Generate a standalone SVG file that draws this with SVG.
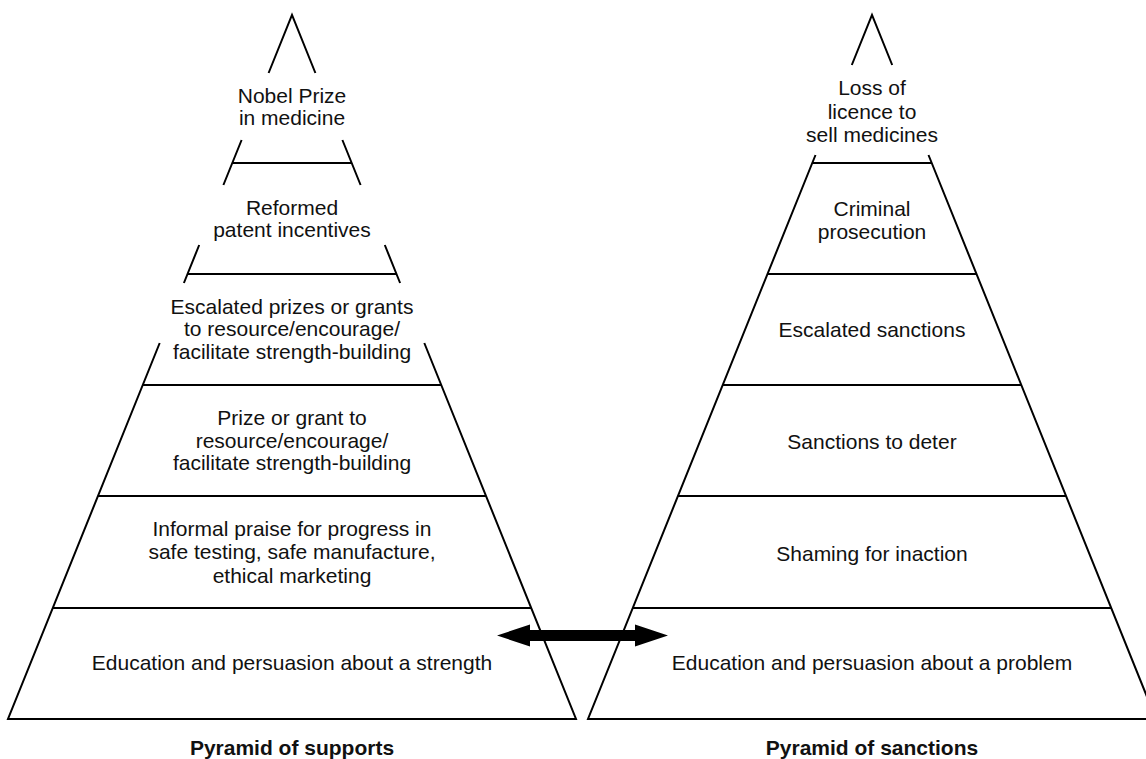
<svg xmlns="http://www.w3.org/2000/svg" width="1146" height="759" viewBox="0 0 1146 759">
<style>
.ln{stroke:#000;stroke-width:2;fill:none;stroke-linecap:butt}
.t{font-family:"Liberation Sans",Arial,sans-serif;font-size:21px;fill:#111;text-anchor:middle}
.lb{font-family:"Liberation Sans",Arial,sans-serif;font-size:21px;font-weight:bold;fill:#111;text-anchor:middle}
</style>
<rect width="1146" height="759" fill="#fff"/>
<g id="pyramid-supports-outline">
<path class="ln" d="M268.6,73 L292,15 L315.4,73 M241.6,140 L223.4,185 M342.4,140 L360.6,185 M199.2,245 L183.9,283 M384.8,245 L400.1,283 M159.7,343 L8,719 L576,719 L424.3,343"/>
<path class="ln" d="M232.3,163 H351.7 M187.5,274 H396.5 M142.7,385 H441.3 M98,496 H486 M52.8,608 H531.2"/>
</g>
<g id="pyramid-sanctions-outline">
<path class="ln" d="M851.8,65 L872,15 L892.2,65 M815.5,155 L588,719 L1156,719 L928.5,155"/>
<path class="ln" d="M812.3,163 H931.7 M767.5,274 H976.5 M722.7,385 H1021.3 M678,496 H1066 M632.8,608 H1111.2"/>
</g>
<g id="support-6"><text class="t" x="292" y="103">Nobel Prize</text><text class="t" x="292" y="125">in medicine</text></g>
<g id="support-5"><text class="t" x="292" y="215">Reformed</text><text class="t" x="292" y="237">patent incentives</text></g>
<g id="support-4"><text class="t" x="292" y="313.5">Escalated prizes or grants</text><text class="t" x="292" y="336">to resource/encourage/</text><text class="t" x="292" y="358.5">facilitate strength-building</text></g>
<g id="support-3"><text class="t" x="292" y="425">Prize or grant to</text><text class="t" x="292" y="447.5">resource/encourage/</text><text class="t" x="292" y="470">facilitate strength-building</text></g>
<g id="support-2"><text class="t" x="292" y="535.5">Informal praise for progress in</text><text class="t" x="292" y="559">safe testing, safe manufacture,</text><text class="t" x="292" y="582.5">ethical marketing</text></g>
<g id="support-1"><text class="t" x="292" y="670">Education and persuasion about a strength</text></g>
<g id="sanction-6"><text class="t" x="872" y="95">Loss of</text><text class="t" x="872" y="118.5">licence to</text><text class="t" x="872" y="142">sell medicines</text></g>
<g id="sanction-5"><text class="t" x="872" y="216">Criminal</text><text class="t" x="872" y="239">prosecution</text></g>
<g id="sanction-4"><text class="t" x="872" y="337">Escalated sanctions</text></g>
<g id="sanction-3"><text class="t" x="872" y="449">Sanctions to deter</text></g>
<g id="sanction-2"><text class="t" x="872" y="561">Shaming for inaction</text></g>
<g id="sanction-1"><text class="t" x="872" y="670">Education and persuasion about a problem</text></g>
<g id="label-supports"><text class="lb" x="292" y="755">Pyramid of supports</text></g>
<g id="label-sanctions"><text class="lb" x="872" y="755">Pyramid of sanctions</text></g>
<g id="connectors">
<polygon fill="#000" points="497,635.5 530,624.5 530,630 635,630 635,624.5 668,635.5 635,646.5 635,641 530,641 530,646.5"/>
</g>
</svg>
